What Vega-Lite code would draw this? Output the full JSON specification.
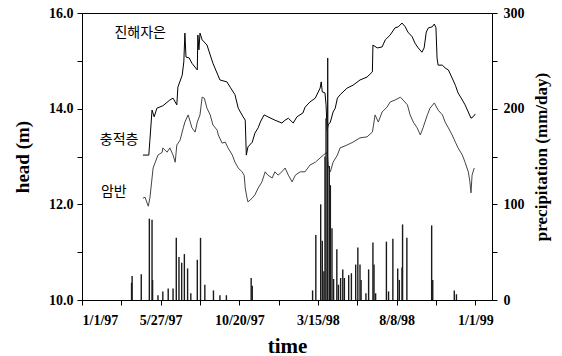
{
 "$schema": "https://vega.github.io/schema/vega-lite/v6.json",
 "width": 410, "height": 287,
 "autosize": {"type": "none"},
 "padding": {"left": 82, "top": 13, "right": 70, "bottom": 56},
 "background": "white",
 "config": {
  "view": {"stroke": "black", "strokeWidth": 1},
  "axis": {"labelFont": "Liberation Serif", "labelFontWeight": "bold", "labelFontSize": 14, "labelColor": "black",
   "titleFont": "Liberation Serif", "titleFontWeight": "bold", "titleColor": "black",
   "domainColor": "black", "tickColor": "black", "tickSize": 5, "grid": false}
 },
 "datasets": {
  "head": [
   {"date":"1997-04-24","series":"충적층","head":13.03},
   {"date":"1997-05-05","series":"충적층","head":13.03},
   {"date":"1997-05-07","series":"충적층","head":13.34},
   {"date":"1997-05-11","series":"충적층","head":13.97},
   {"date":"1997-05-15","series":"충적층","head":13.83},
   {"date":"1997-05-20","series":"충적층","head":14.01},
   {"date":"1997-05-31","series":"충적층","head":14.06},
   {"date":"1997-06-13","series":"충적층","head":14.18},
   {"date":"1997-06-19","series":"충적층","head":14.22},
   {"date":"1997-06-26","series":"충적층","head":14.08},
   {"date":"1997-06-28","series":"충적층","head":14.45},
   {"date":"1997-07-06","series":"충적층","head":14.70},
   {"date":"1997-07-09","series":"충적층","head":14.98},
   {"date":"1997-07-11","series":"충적층","head":15.58},
   {"date":"1997-07-13","series":"충적층","head":15.08},
   {"date":"1997-07-19","series":"충적층","head":15.06},
   {"date":"1997-07-24","series":"충적층","head":14.95},
   {"date":"1997-08-03","series":"충적층","head":14.81},
   {"date":"1997-08-04","series":"충적층","head":15.54},
   {"date":"1997-08-06","series":"충적층","head":15.23},
   {"date":"1997-08-08","series":"충적층","head":15.58},
   {"date":"1997-08-12","series":"충적층","head":15.44},
   {"date":"1997-08-21","series":"충적층","head":15.33},
   {"date":"1997-09-01","series":"충적층","head":14.95},
   {"date":"1997-09-14","series":"충적층","head":14.60},
   {"date":"1997-09-27","series":"충적층","head":14.56},
   {"date":"1997-10-03","series":"충적층","head":14.45},
   {"date":"1997-10-12","series":"충적층","head":14.29},
   {"date":"1997-10-18","series":"충적층","head":14.01},
   {"date":"1997-10-27","series":"충적층","head":13.83},
   {"date":"1997-10-31","series":"충적층","head":13.76},
   {"date":"1997-11-02","series":"충적층","head":13.03},
   {"date":"1997-11-05","series":"충적층","head":13.20},
   {"date":"1997-11-13","series":"충적층","head":13.30},
   {"date":"1997-11-18","series":"충적층","head":13.49},
   {"date":"1997-11-24","series":"충적층","head":13.60},
   {"date":"1997-11-28","series":"충적층","head":13.72},
   {"date":"1997-12-05","series":"충적층","head":13.87},
   {"date":"1997-12-12","series":"충적층","head":13.83},
   {"date":"1997-12-25","series":"충적층","head":13.76},
   {"date":"1998-01-07","series":"충적층","head":13.70},
   {"date":"1998-01-13","series":"충적층","head":13.76},
   {"date":"1998-01-19","series":"충적층","head":13.80},
   {"date":"1998-01-28","series":"충적층","head":13.70},
   {"date":"1998-02-04","series":"충적층","head":13.83},
   {"date":"1998-02-15","series":"충적층","head":13.91},
   {"date":"1998-02-19","series":"충적층","head":14.03},
   {"date":"1998-02-28","series":"충적층","head":14.14},
   {"date":"1998-03-10","series":"충적층","head":14.22},
   {"date":"1998-03-19","series":"충적층","head":14.43},
   {"date":"1998-03-21","series":"충적층","head":14.56},
   {"date":"1998-03-23","series":"충적층","head":14.35},
   {"date":"1998-03-28","series":"충적층","head":14.33},
   {"date":"1998-03-30","series":"충적층","head":14.08},
   {"date":"1998-04-01","series":"충적층","head":13.55},
   {"date":"1998-04-03","series":"충적층","head":13.66},
   {"date":"1998-04-07","series":"충적층","head":13.72},
   {"date":"1998-04-12","series":"충적층","head":13.93},
   {"date":"1998-04-16","series":"충적층","head":14.01},
   {"date":"1998-04-20","series":"충적층","head":14.22},
   {"date":"1998-04-25","series":"충적층","head":14.29},
   {"date":"1998-05-08","series":"충적층","head":14.43},
   {"date":"1998-05-19","series":"충적층","head":14.49},
   {"date":"1998-06-01","series":"충적층","head":14.60},
   {"date":"1998-06-14","series":"충적층","head":14.66},
   {"date":"1998-06-24","series":"충적층","head":14.77},
   {"date":"1998-06-25","series":"충적층","head":15.33},
   {"date":"1998-07-03","series":"충적층","head":15.27},
   {"date":"1998-07-12","series":"충적층","head":15.29},
   {"date":"1998-07-18","series":"충적층","head":15.44},
   {"date":"1998-07-27","series":"충적층","head":15.54},
   {"date":"1998-08-05","series":"충적층","head":15.69},
   {"date":"1998-08-11","series":"충적층","head":15.71},
   {"date":"1998-08-18","series":"충적층","head":15.79},
   {"date":"1998-08-24","series":"충적층","head":15.71},
   {"date":"1998-08-29","series":"충적층","head":15.60},
   {"date":"1998-09-06","series":"충적층","head":15.50},
   {"date":"1998-09-11","series":"충적층","head":15.37},
   {"date":"1998-09-17","series":"충적층","head":15.27},
   {"date":"1998-09-24","series":"충적층","head":15.18},
   {"date":"1998-09-28","series":"충적층","head":15.27},
   {"date":"1998-10-02","series":"충적층","head":15.60},
   {"date":"1998-10-06","series":"충적층","head":15.69},
   {"date":"1998-10-13","series":"충적층","head":15.71},
   {"date":"1998-10-17","series":"충적층","head":15.77},
   {"date":"1998-10-20","series":"충적층","head":15.69},
   {"date":"1998-10-22","series":"충적층","head":15.06},
   {"date":"1998-10-24","series":"충적층","head":14.91},
   {"date":"1998-11-01","series":"충적층","head":14.91},
   {"date":"1998-11-06","series":"충적층","head":14.85},
   {"date":"1998-11-12","series":"충적층","head":14.81},
   {"date":"1998-11-19","series":"충적층","head":14.64},
   {"date":"1998-11-25","series":"충적층","head":14.49},
   {"date":"1998-11-30","series":"충적층","head":14.33},
   {"date":"1998-12-08","series":"충적층","head":14.18},
   {"date":"1998-12-13","series":"충적층","head":14.08},
   {"date":"1998-12-19","series":"충적층","head":13.93},
   {"date":"1998-12-24","series":"충적층","head":13.80},
   {"date":"1998-12-28","series":"충적층","head":13.83},
   {"date":"1999-01-01","series":"충적층","head":13.89},
   {"date":"1997-04-24","series":"암반","head":12.13},
   {"date":"1997-04-28","series":"암반","head":12.15},
   {"date":"1997-05-04","series":"암반","head":11.96},
   {"date":"1997-05-07","series":"암반","head":12.13},
   {"date":"1997-05-11","series":"암반","head":12.55},
   {"date":"1997-05-13","series":"암반","head":12.76},
   {"date":"1997-05-17","series":"암반","head":12.88},
   {"date":"1997-05-22","series":"암반","head":13.03},
   {"date":"1997-05-30","series":"암반","head":13.09},
   {"date":"1997-05-31","series":"암반","head":13.18},
   {"date":"1997-06-08","series":"암반","head":13.09},
   {"date":"1997-06-13","series":"암반","head":13.18},
   {"date":"1997-06-19","series":"암반","head":13.03},
   {"date":"1997-06-23","series":"암반","head":12.88},
   {"date":"1997-06-26","series":"암반","head":13.24},
   {"date":"1997-07-02","series":"암반","head":13.34},
   {"date":"1997-07-08","series":"암반","head":13.60},
   {"date":"1997-07-11","series":"암반","head":13.72},
   {"date":"1997-07-17","series":"암반","head":13.87},
   {"date":"1997-07-21","series":"암반","head":13.72},
   {"date":"1997-07-24","series":"암반","head":13.60},
   {"date":"1997-07-30","series":"암반","head":13.51},
   {"date":"1997-08-03","series":"암반","head":13.72},
   {"date":"1997-08-08","series":"암반","head":13.87},
   {"date":"1997-08-12","series":"암반","head":14.24},
   {"date":"1997-08-16","series":"암반","head":14.22},
   {"date":"1997-08-21","series":"암반","head":14.01},
   {"date":"1997-08-27","series":"암반","head":13.87},
   {"date":"1997-09-01","series":"암반","head":13.66},
   {"date":"1997-09-09","series":"암반","head":13.55},
   {"date":"1997-09-11","series":"암반","head":13.45},
   {"date":"1997-09-18","series":"암반","head":13.28},
   {"date":"1997-09-24","series":"암반","head":13.30},
   {"date":"1997-09-29","series":"암반","head":13.18},
   {"date":"1997-10-07","series":"암반","head":13.03},
   {"date":"1997-10-12","series":"암반","head":12.88},
   {"date":"1997-10-18","series":"암반","head":12.76},
   {"date":"1997-10-25","series":"암반","head":12.68},
   {"date":"1997-10-29","series":"암반","head":12.61},
   {"date":"1997-10-31","series":"암반","head":12.34},
   {"date":"1997-11-03","series":"암반","head":12.15},
   {"date":"1997-11-05","series":"암반","head":12.05},
   {"date":"1997-11-13","series":"암반","head":12.13},
   {"date":"1997-11-18","series":"암반","head":12.20},
   {"date":"1997-11-24","series":"암반","head":12.34},
   {"date":"1997-12-01","series":"암반","head":12.47},
   {"date":"1997-12-07","series":"암반","head":12.68},
   {"date":"1997-12-12","series":"암반","head":12.61},
   {"date":"1997-12-20","series":"암반","head":12.55},
   {"date":"1997-12-25","series":"암반","head":12.68},
   {"date":"1997-12-31","series":"암반","head":12.61},
   {"date":"1998-01-07","series":"암반","head":12.68},
   {"date":"1998-01-13","series":"암반","head":12.76},
   {"date":"1998-01-19","series":"암반","head":12.61},
   {"date":"1998-01-26","series":"암반","head":12.47},
   {"date":"1998-02-01","series":"암반","head":12.61},
   {"date":"1998-02-10","series":"암반","head":12.68},
   {"date":"1998-02-19","series":"암반","head":12.68},
   {"date":"1998-02-28","series":"암반","head":12.82},
   {"date":"1998-03-10","series":"암반","head":12.88},
   {"date":"1998-03-19","series":"암반","head":12.97},
   {"date":"1998-03-25","series":"암반","head":13.03},
   {"date":"1998-04-01","series":"암반","head":13.09},
   {"date":"1998-04-03","series":"암반","head":12.82},
   {"date":"1998-04-07","series":"암반","head":12.68},
   {"date":"1998-04-12","series":"암반","head":12.88},
   {"date":"1998-04-20","series":"암반","head":13.03},
   {"date":"1998-04-25","series":"암반","head":13.18},
   {"date":"1998-05-08","series":"암반","head":13.24},
   {"date":"1998-05-19","series":"암반","head":13.30},
   {"date":"1998-06-01","series":"암반","head":13.39},
   {"date":"1998-06-14","series":"암반","head":13.41},
   {"date":"1998-06-24","series":"암반","head":13.51},
   {"date":"1998-06-29","series":"암반","head":13.87},
   {"date":"1998-07-05","series":"암반","head":13.72},
   {"date":"1998-07-12","series":"암반","head":13.93},
   {"date":"1998-07-21","series":"암반","head":14.03},
   {"date":"1998-07-27","series":"암반","head":14.14},
   {"date":"1998-08-05","series":"암반","head":14.18},
   {"date":"1998-08-15","series":"암반","head":14.24},
   {"date":"1998-08-20","series":"암반","head":14.18},
   {"date":"1998-08-28","series":"암반","head":14.08},
   {"date":"1998-09-02","series":"암반","head":13.87},
   {"date":"1998-09-08","series":"암반","head":13.72},
   {"date":"1998-09-15","series":"암반","head":13.60},
   {"date":"1998-09-21","series":"암반","head":13.45},
   {"date":"1998-09-26","series":"암반","head":13.60},
   {"date":"1998-10-04","series":"암반","head":13.87},
   {"date":"1998-10-09","series":"암반","head":14.01},
   {"date":"1998-10-17","series":"암반","head":14.12},
   {"date":"1998-10-24","series":"암반","head":13.97},
   {"date":"1998-11-01","series":"암반","head":13.87},
   {"date":"1998-11-06","series":"암반","head":13.72},
   {"date":"1998-11-12","series":"암반","head":13.60},
   {"date":"1998-11-19","series":"암반","head":13.45},
   {"date":"1998-11-25","series":"암반","head":13.30},
   {"date":"1998-11-30","series":"암반","head":13.18},
   {"date":"1998-12-08","series":"암반","head":13.03},
   {"date":"1998-12-13","series":"암반","head":12.88},
   {"date":"1998-12-19","series":"암반","head":12.68},
   {"date":"1998-12-22","series":"암반","head":12.47},
   {"date":"1998-12-24","series":"암반","head":12.24},
   {"date":"1998-12-26","series":"암반","head":12.61},
   {"date":"1998-12-30","series":"암반","head":12.76}
  ],
  "precip": [
   {"date":"1997-04-03","p":18},{"date":"1997-04-04","p":25},{"date":"1997-04-21","p":27},
   {"date":"1997-05-06","p":85},{"date":"1997-05-11","p":84},{"date":"1997-05-12","p":21},
   {"date":"1997-05-22","p":5},{"date":"1997-05-31","p":9},{"date":"1997-06-10","p":12},
   {"date":"1997-06-19","p":12},{"date":"1997-06-25","p":65},{"date":"1997-06-30","p":45},
   {"date":"1997-07-05","p":39},{"date":"1997-07-10","p":48},{"date":"1997-07-16","p":33},
   {"date":"1997-07-22","p":7},{"date":"1997-08-03","p":42},{"date":"1997-08-09","p":65},
   {"date":"1997-08-17","p":16},{"date":"1997-09-02","p":10},{"date":"1997-09-14","p":5},
   {"date":"1997-09-26","p":5},{"date":"1997-11-11","p":23},{"date":"1997-11-13","p":15},
   {"date":"1998-03-05","p":10},{"date":"1998-03-11","p":68},{"date":"1998-03-20","p":100},
   {"date":"1998-03-23","p":62},{"date":"1998-03-26","p":30},{"date":"1998-03-28","p":150},
   {"date":"1998-03-30","p":190},{"date":"1998-04-02","p":253},{"date":"1998-04-05","p":140},
   {"date":"1998-04-07","p":120},{"date":"1998-04-10","p":75},{"date":"1998-04-13","p":22},
   {"date":"1998-04-19","p":53},{"date":"1998-04-22","p":16},{"date":"1998-04-26","p":23},
   {"date":"1998-04-30","p":32},{"date":"1998-05-03","p":23},{"date":"1998-05-11","p":26},
   {"date":"1998-05-16","p":28},{"date":"1998-05-24","p":37},{"date":"1998-05-28","p":55},
   {"date":"1998-06-01","p":37},{"date":"1998-06-03","p":21},{"date":"1998-06-12","p":7},
   {"date":"1998-06-17","p":32},{"date":"1998-06-25","p":60},{"date":"1998-06-27","p":37},
   {"date":"1998-06-30","p":7},{"date":"1998-07-20","p":61},{"date":"1998-07-24","p":9},
   {"date":"1998-08-01","p":64},{"date":"1998-08-10","p":33},{"date":"1998-08-13","p":21},
   {"date":"1998-08-18","p":34},{"date":"1998-08-19","p":79},{"date":"1998-08-27","p":65},
   {"date":"1998-10-12","p":78},{"date":"1998-10-14","p":21},{"date":"1998-11-23","p":10},
   {"date":"1998-11-27","p":6}
  ],
  "labels": [
   {"date":"1997-04-19","head":15.58,"text":"진해자은"},
   {"date":"1997-03-11","head":13.34,"text":"충적층"},
   {"date":"1997-03-01","head":12.26,"text":"암반"}
  ]
 },
 "encoding": {
  "x": {"field": "date", "type": "temporal",
   "scale": {"type": "utc", "domain": [{"year":1997,"month":1,"date":1,"utc":true},{"year":1999,"month":2,"date":1,"utc":true}]},
   "axis": {"title": "time", "titleFontSize": 21, "titlePadding": 8, "labelPadding": 8,
    "values": [{"year":1997,"month":1,"date":1,"utc":true},{"year":1997,"month":3,"date":15,"utc":true},{"year":1997,"month":5,"date":27,"utc":true},{"year":1997,"month":8,"date":8,"utc":true},{"year":1997,"month":10,"date":20,"utc":true},{"year":1998,"month":1,"date":1,"utc":true},{"year":1998,"month":3,"date":15,"utc":true},{"year":1998,"month":5,"date":27,"utc":true},{"year":1998,"month":8,"date":8,"utc":true},{"year":1998,"month":10,"date":20,"utc":true},{"year":1999,"month":1,"date":1,"utc":true}],
    "labelExpr": "indexof(['1/1/97','5/27/97','10/20/97','3/15/98','8/8/98','1/1/99'], utcFormat(datum.value, '%-m/%-d/%y')) >= 0 ? utcFormat(datum.value, '%-m/%-d/%y') : ''"}}
 },
 "layer": [
  {
   "encoding": {"y": {"field": "head", "type": "quantitative", "scale": {"domain": [10, 16]},
    "axis": {"orient": "left", "title": "head (m)", "titleFontSize": 19, "titlePadding": 16, "labelPadding": 4, "values": [10,11,12,13,14,15,16],
     "labelExpr": "datum.value % 2 == 0 ? format(datum.value, '.1f') : ''"}}},
   "layer": [
    {"data": {"name": "head"}, "mark": {"type": "line", "color": "black", "strokeWidth": 1},
     "encoding": {"detail": {"field": "series"}, "strokeWidth": {"field": "series", "type": "nominal", "scale": {"domain": ["충적층","암반"], "range": [1.1, 2]}, "legend": null},
      "color": {"field": "series", "type": "nominal", "scale": {"domain": ["충적층","암반"], "range": ["#000000","#444444"]}, "legend": null}}},
    {"data": {"name": "labels"}, "mark": {"type": "text", "font": "Noto Sans CJK KR", "fontSize": 14, "color": "black"},
     "encoding": {"text": {"field": "text"}}}
   ]
  },
  {
   "data": {"name": "precip"},
   "mark": {"type": "rule", "color": "#1a1a1a", "strokeWidth": 1.4},
   "encoding": {
    "y": {"field": "p", "type": "quantitative", "scale": {"domain": [0, 300]},
     "axis": {"orient": "right", "title": "precipitation (mm/day)", "titleFontSize": 17, "titleAngle": 270, "titlePadding": 26, "labelPadding": 6,
      "values": [0,50,100,150,200,250,300], "labelExpr": "datum.value % 100 == 0 ? datum.label : ''"}},
    "y2": {"datum": 0}
   }
  }
 ],
 "resolve": {"scale": {"y": "independent"}}
}
